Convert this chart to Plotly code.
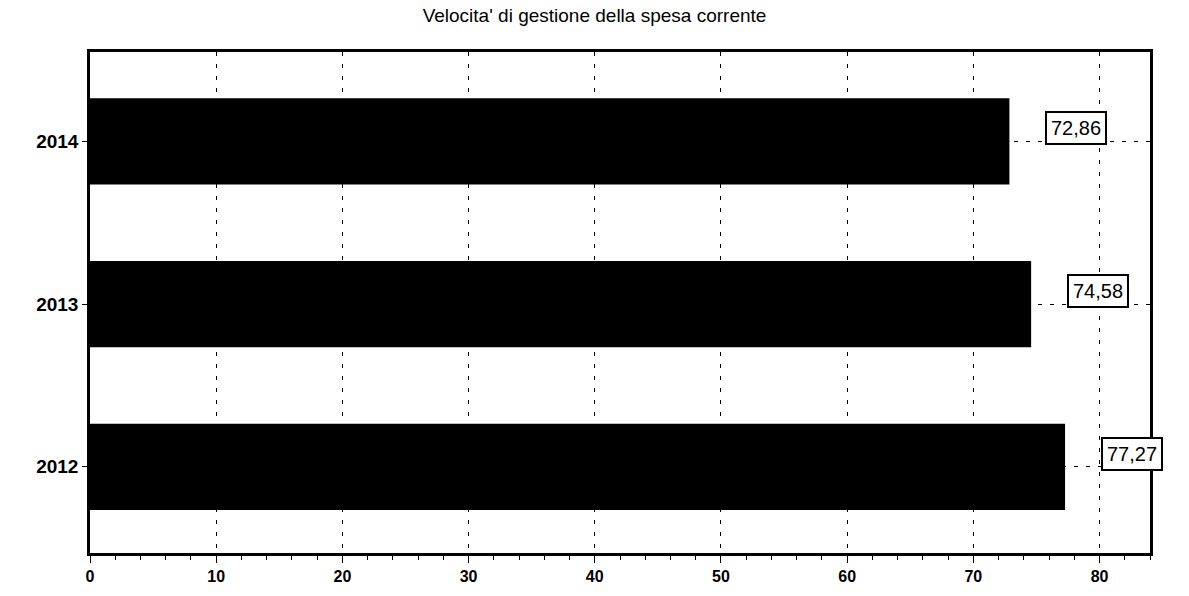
import plotly.graph_objects as go

title = "Velocita' di gestione della spesa corrente"
years = ["2012", "2013", "2014"]
values = [77.27, 74.58, 72.86]
labels = ["77,27", "74,58", "72,86"]
x_ticks = [0, 10, 20, 30, 40, 50, 60, 70, 80]

FONT = "Liberation Sans, Arial"

fig = go.Figure()
fig.add_trace(go.Bar(
    y=years, x=values, orientation="h",
    marker=dict(color="black", line=dict(width=0)),
    width=0.53, hoverinfo="x+y",
))

for i, (v, t) in enumerate(zip(values, labels)):
    fig.add_annotation(
        x=v, y=i, text=t, showarrow=False, xanchor="left", xshift=36, yshift=13,
        font=dict(family=FONT, size=20, color="black"),
        bordercolor="black", borderwidth=2, borderpad=4, bgcolor="white",
    )

fig.update_layout(
    width=1189, height=596,
    margin=dict(l=90, r=39, t=52, b=43),
    paper_bgcolor="white", plot_bgcolor="white",
    title=dict(text=title, x=0.5, xanchor="center", y=0.985, yanchor="top",
               font=dict(family=FONT, size=19, color="black")),
    showlegend=False,
    bargap=0.47,
)

fig.update_xaxes(
    range=[0, 84], tickvals=x_ticks, ticktext=[str(v) for v in x_ticks],
    showgrid=True, gridcolor="black", gridwidth=1, griddash="4px,8px",
    showline=True, linecolor="black", linewidth=2.5, mirror=True,
    ticks="outside", ticklen=7, tickcolor="black", tickwidth=1,
    minor=dict(dtick=2, tick0=0, ticks="outside", ticklen=4, tickcolor="black", showgrid=False),
    tickfont=dict(family=FONT, size=16, color="black", weight="bold"),
    zeroline=False, fixedrange=True,
)
fig.update_yaxes(
    type="category", categoryorder="array", categoryarray=years,
    range=[-0.53, 2.55],
    showgrid=True, gridcolor="black", gridwidth=1, griddash="4px,8px",
    showline=True, linecolor="black", linewidth=2.5, mirror=True,
    ticks="outside", ticklen=5, tickcolor="black",
    tickfont=dict(family=FONT, size=19, color="black", weight="bold"),
    zeroline=False, fixedrange=True,
)

fig.write_html("out.html")
